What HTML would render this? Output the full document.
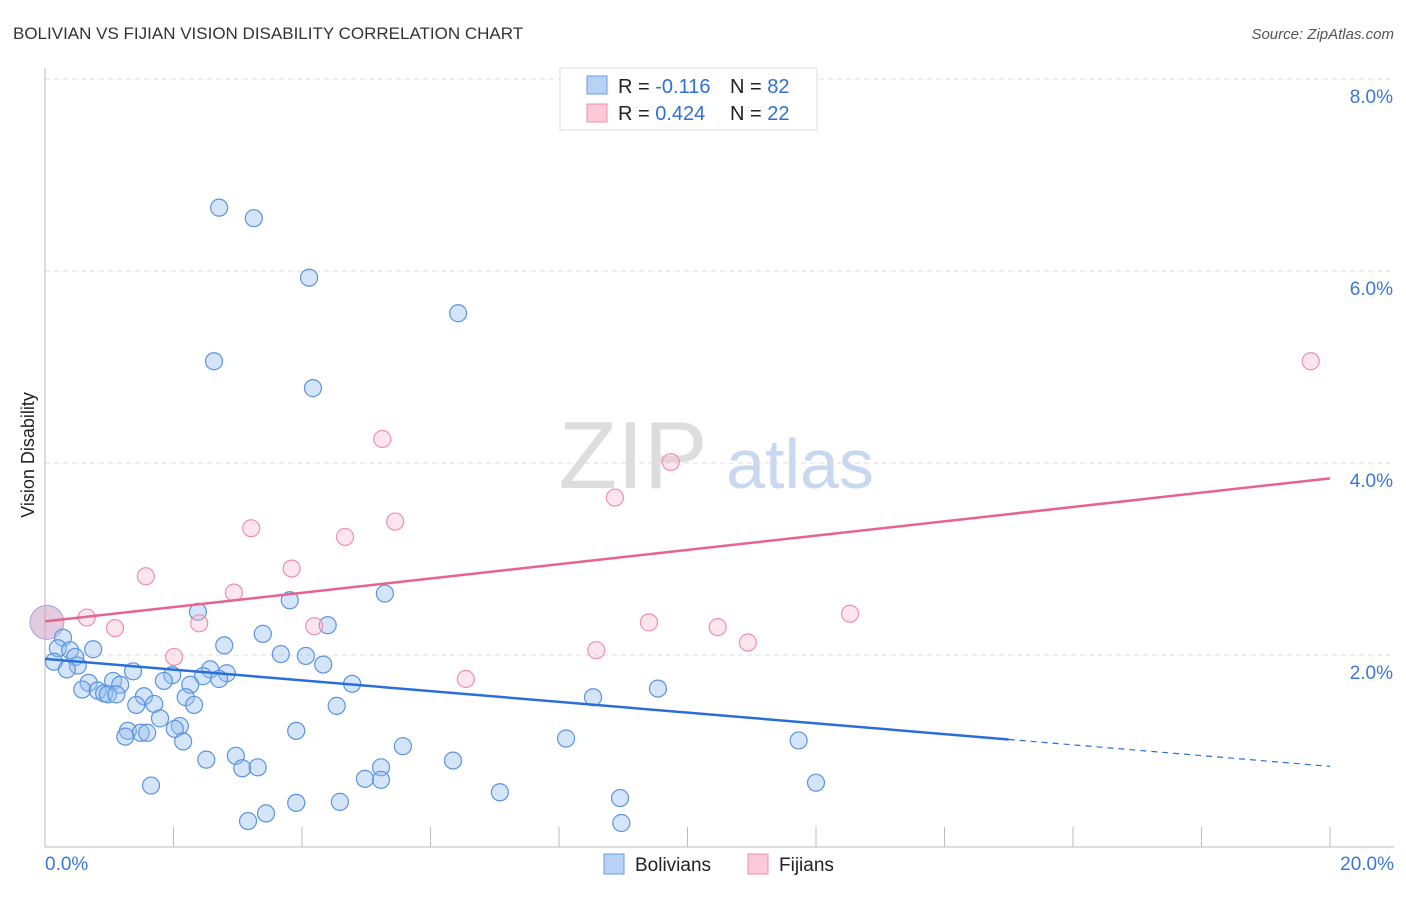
<!DOCTYPE html>
<html><head><meta charset="utf-8"><style>
body{margin:0;background:#fff;font-family:"Liberation Sans",sans-serif}
svg text{font-family:"Liberation Sans",sans-serif}
</style></head><body>
<svg id="chart" width="1406" height="892" viewBox="0 0 1406 892" xmlns="http://www.w3.org/2000/svg">
<text x="13" y="39" font-size="17" fill="#333">BOLIVIAN VS FIJIAN VISION DISABILITY CORRELATION CHART</text>
<text x="1394" y="39" font-size="15" fill="#555" font-style="italic" text-anchor="end">Source: ZipAtlas.com</text>
<text x="633" y="488" font-size="96" fill="#ddd" font-family="Liberation Serif" text-anchor="middle">ZIP</text>
<text x="800" y="488" font-size="70" fill="#c8d8f0" text-anchor="middle">atlas</text>
<text transform="translate(34,455) rotate(-90)" font-size="18" fill="#222" text-anchor="middle">Vision Disability</text>
<g id="grid"></g><g id="ticks"></g><g id="marks"></g>
<g>
<rect x="560" y="68" width="257" height="62" fill="#fff" stroke="#ddd"/>
<rect x="587" y="76" width="20" height="18" fill="#b8d2f5" stroke="#6a9be0"/>
<rect x="587" y="104" width="20" height="18" fill="#fbc9d8" stroke="#ee8fab"/>
<text x="618" y="93" font-size="20" fill="#222">R = <tspan fill="#2f6fd6">-0.116</tspan></text>
<text x="730" y="93" font-size="20" fill="#222">N = <tspan fill="#2f6fd6">82</tspan></text>
<text x="618" y="120" font-size="20" fill="#222">R = <tspan fill="#2f6fd6">0.424</tspan></text>
<text x="730" y="120" font-size="20" fill="#222">N = <tspan fill="#2f6fd6">22</tspan></text>
</g>
<g>
<rect x="604" y="854" width="20" height="20" fill="#b8d2f5" stroke="#6a9be0"/>
<text x="635" y="871" font-size="19" fill="#222">Bolivians</text>
<rect x="748" y="854" width="20" height="20" fill="#fbc9d8" stroke="#ee8fab"/>
<text x="779" y="871" font-size="19" fill="#222">Fijians</text>
</g>
</svg>
<script>
const yTicks=[2,4,6,8];
const yTickLabels=["2.0%","4.0%","6.0%","8.0%"];
const xTickLabels=["0.0%","20.0%"];
const boliviansX=[2.71,3.25,4.11,6.43,2.63,4.17,5.29,3.81,2.38,4.40,3.39,0.28,2.79,0.75,0.20,0.39,3.67,4.06,0.47,0.14,0.51,4.33,0.34,1.37,2.57,2.83,1.98,2.46,2.71,1.85,0.68,1.06,1.17,2.26,4.78,0.58,9.54,0.82,0.92,0.98,1.11,1.54,2.19,8.53,1.42,1.70,2.32,4.54,1.79,2.10,1.29,2.02,3.91,1.49,1.59,1.25,2.15,8.11,11.73,5.57,2.97,2.51,6.35,3.07,3.31,5.23,4.98,5.23,12.0,1.65,7.08,3.91,4.59,8.95,3.44,3.16,8.97];
const boliviansY=[6.66,6.55,5.93,5.56,5.06,4.78,2.64,2.57,2.45,2.31,2.22,2.18,2.10,2.06,2.07,2.05,2.01,1.99,1.98,1.93,1.89,1.90,1.85,1.83,1.85,1.81,1.79,1.78,1.75,1.73,1.71,1.73,1.69,1.69,1.70,1.64,1.65,1.63,1.60,1.59,1.59,1.57,1.56,1.56,1.48,1.49,1.48,1.47,1.34,1.26,1.21,1.23,1.21,1.19,1.19,1.15,1.10,1.13,1.11,1.05,0.95,0.91,0.90,0.82,0.83,0.83,0.71,0.70,0.67,0.64,0.57,0.46,0.47,0.51,0.35,0.27,0.25];
const fijiansX=[0.65,1.09,1.57,2.01,2.40,2.94,3.21,3.84,4.19,4.67,5.25,5.45,6.55,8.58,8.87,9.40,9.74,10.47,10.94,12.53,19.70];
const fijiansY=[2.39,2.28,2.82,1.98,2.33,2.65,3.32,2.90,2.30,3.23,4.25,3.39,1.75,2.05,3.64,2.34,4.01,2.29,2.13,2.43,5.06];
const blueTrend=[1.96,0.84];
const pinkTrend=[2.35,3.84];
const NS="http://www.w3.org/2000/svg";
const X=v=>45+v/20*1285, Y=v=>847-v*96;
function mk(tag,attrs,parent){const e=document.createElementNS(NS,tag);for(const k in attrs)e.setAttribute(k,attrs[k]);document.getElementById(parent).appendChild(e);return e;}
yTicks.forEach((t,i)=>{
 const l=mk('line',{x1:45,x2:1394,y1:Y(t),y2:Y(t),stroke:'#ddd','stroke-dasharray':'5,4'},'grid');
 
 
 const tx=mk('text',{x:1393,y:Y(t)+24,'font-size':19,fill:'#3a78d8','text-anchor':'end'},'ticks');
 tx.textContent=yTickLabels[i];
 
 
});
const ax=mk('line',{x1:45,x2:45,y1:68,y2:847,stroke:'#bbb'},'grid');


const bx=mk('line',{x1:45,x2:1394,y1:847,y2:847,stroke:'#bbb'},'grid');


for(let v=0;v<=20;v+=2){
 const t=mk('line',{x1:X(v),x2:X(v),y1:827,y2:847,stroke:'#bbb'},'ticks');
 
 
}
[[0,'start',45],[20,'end',1394]].forEach((d,i)=>{
 const t=mk('text',{x:d[2],y:870,'font-size':19,fill:'#3a78d8','text-anchor':d[1]},'ticks');
 t.textContent=xTickLabels[i];
 
 
});
const big=mk('circle',{cx:X(0.03),cy:Y(2.34),r:17,fill:'rgba(200,150,190,0.5)',stroke:'#b0a0d8'},'marks');


boliviansX.forEach((x,i)=>{
 const c=mk('circle',{cx:X(x),cy:Y(boliviansY[i]),r:8.5,fill:'rgba(150,190,240,0.4)',stroke:'#5b93e0','stroke-width':1.2},'marks');
 
 
});
fijiansX.forEach((x,i)=>{
 const c=mk('circle',{cx:X(x),cy:Y(fijiansY[i]),r:8.5,fill:'rgba(250,190,210,0.4)',stroke:'#ee90ad','stroke-width':1.2},'marks');
 
 
});
const bAt=v=>blueTrend[0]+(blueTrend[1]-blueTrend[0])*v/20;
const b1=mk('line',{x1:X(0),y1:Y(bAt(0)),x2:X(15),y2:Y(bAt(15)),stroke:'#2a6fd8','stroke-width':2.5},'marks');


const b2=mk('line',{x1:X(15),y1:Y(bAt(15)),x2:X(20),y2:Y(bAt(20)),stroke:'#2a6fd8','stroke-width':1.2,'stroke-dasharray':'6,5'},'marks');


const p1=mk('line',{x1:X(0),y1:Y(pinkTrend[0]),x2:X(20),y2:Y(pinkTrend[1]),stroke:'#e8628d','stroke-width':2.5},'marks');


</script>
</body></html>
